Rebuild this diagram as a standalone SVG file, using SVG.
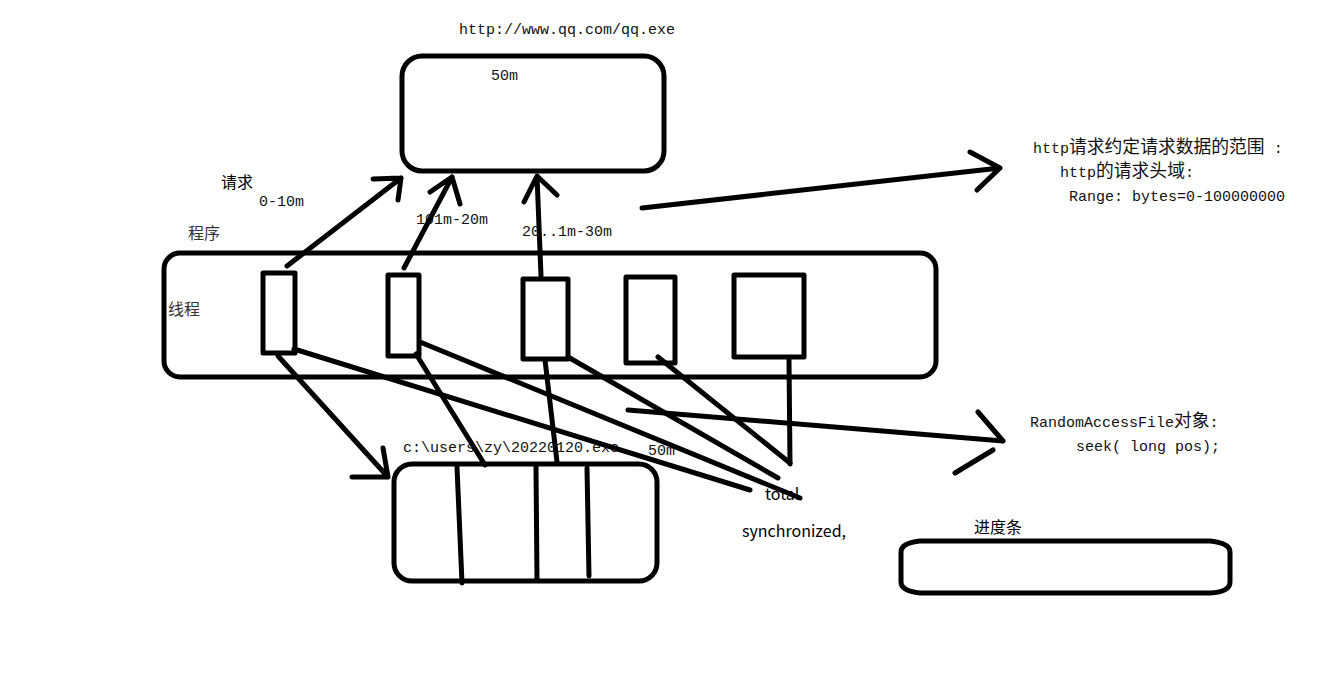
<svg xmlns="http://www.w3.org/2000/svg" width="1343" height="673" viewBox="0 0 1343 673">
<style>
.box{fill:none;stroke:#000;stroke-width:5;stroke-linejoin:round}
.ln{fill:none;stroke:#000;stroke-width:5;stroke-linecap:round;stroke-linejoin:round}
.mono{font-family:"Liberation Mono","Noto Sans CJK SC",monospace;font-size:15px;fill:#111}
.cjk{font-family:"Noto Sans CJK SC",sans-serif;font-size:17.8px}
.sans{font-family:"Noto Sans CJK SC","Noto Sans",sans-serif;font-size:16px;fill:#000}
.gray{fill:#333}
</style>
<rect width="1343" height="673" fill="#fff"/>

<g id="server">
<rect class="box" x="402" y="56" width="262" height="115" rx="20"/>
<text class="mono" x="459" y="34">http://www.qq.com/qq.exe</text>
<text class="mono" x="491" y="80">50m</text>
</g>

<g id="program">
<rect class="box" x="164" y="253" width="772" height="124" rx="16"/>
<text class="sans gray" x="188" y="239">程序</text>
<text class="sans gray" x="168" y="315">线程</text>
</g>

<g id="thread1"><rect class="box" x="263" y="273" width="32" height="80"/></g>
<g id="thread2"><rect class="box" x="388" y="275" width="31" height="81"/></g>
<g id="thread3"><rect class="box" x="523" y="279" width="45" height="80"/></g>
<g id="thread4"><rect class="box" x="626" y="277" width="49" height="86"/></g>
<g id="thread5"><rect class="box" x="734" y="275" width="70" height="82"/></g>

<g id="file">
<rect class="box" x="394" y="464" width="263" height="117" rx="18"/>
<text class="mono" x="403" y="452">c:\users\zy\20220120.exe</text>
<text class="mono" x="648" y="455">50m</text>
</g>

<g id="progress">
<path class="box" d="M920 541 L1210 541 Q1230 543 1230 552 L1230 582 Q1230 592 1210 593 L920 593 Q901 591 901 582 L901 552 Q901 543 920 541 Z"/>
<text class="sans" x="974" y="533">进度条</text>
</g>

<g id="labels">
<text class="sans" x="221" y="188">请求</text>
<text class="mono" x="259" y="206">0-10m</text>
<text class="mono" x="416" y="224">101m-20m</text>
<text class="mono" x="522" y="236">20..1m-30m</text>
<text class="mono" x="1033" y="153">http<tspan class="cjk">请求约定请求数据的范围</tspan> :</text>
<text class="mono" x="1060" y="177">http<tspan class="cjk">的请求头域</tspan>:</text>
<text class="mono" x="1069" y="201">Range: bytes=0-100000000</text>
<text class="mono" x="1030" y="427">RandomAccessFile<tspan class="cjk">对象</tspan>:</text>
<text class="mono" x="1076" y="451">seek( long pos);</text>
<text class="sans" x="765" y="500">total</text>
<text class="sans" x="742" y="537">synchronized,</text>
</g>

<g id="connectors">
<path class="ln" d="M287 266 L401 178 M373 179 L401 178 L398 200"/>
<path class="ln" d="M404 268 L452 177 M430 192 L452 177 L460 204"/>
<path class="ln" d="M541 276 L537 176 M524 202 L537 176 L557 195"/>
<path class="ln" d="M642 208 L1000 168 M970 152 L1000 168 L977 190"/>
<path class="ln" d="M628 410 L1003 441 M978 412 L1003 441 M993 450 L955 473"/>
<path class="ln" d="M278 356 L388 477 M383 448 L388 477 L352 477"/>
<path class="ln" d="M457 467 L462 583"/>
<path class="ln" d="M536 467 L537 580"/>
<path class="ln" d="M587 468 L589 576"/>
<path class="ln" d="M416 354 L485 465"/>
<path class="ln" d="M545 360 L557 462"/>
<path class="ln" d="M294 349 L750 490"/>
<path class="ln" d="M420 342 L800 498"/>
<path class="ln" d="M568 357 L778 478"/>
<path class="ln" d="M658 357 L790 463"/>
<path class="ln" d="M789 360 L790 464"/>
</g>
</svg>
